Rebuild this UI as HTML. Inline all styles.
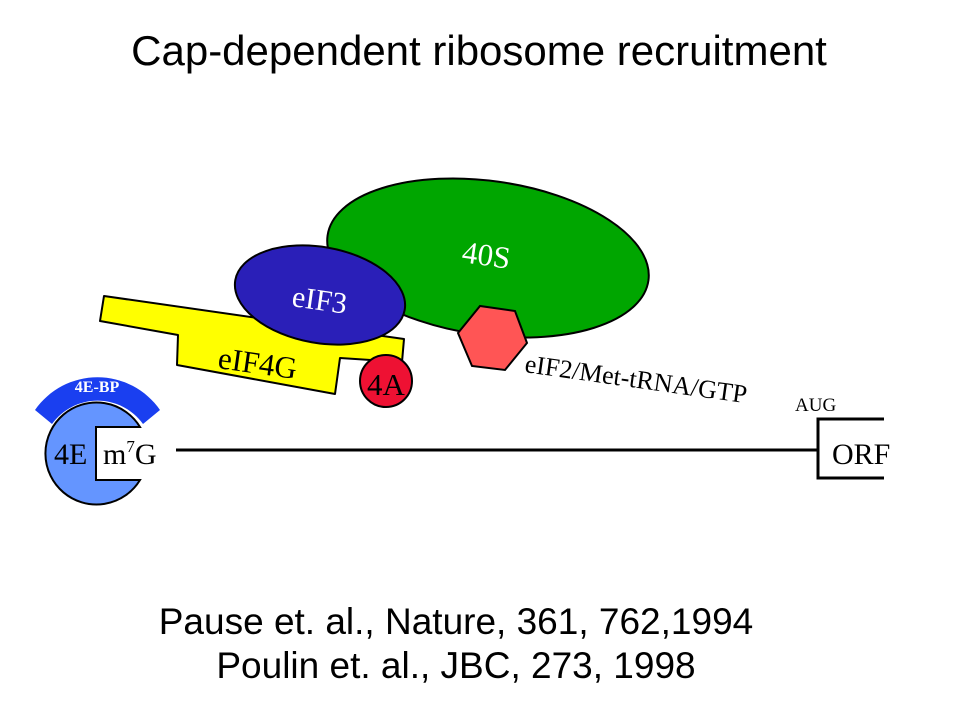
<!DOCTYPE html>
<html><head><style>body{margin:0;background:#fff}svg{display:block}</style></head><body>
<svg width="960" height="720" viewBox="0 0 960 720" xmlns="http://www.w3.org/2000/svg">
<rect width="960" height="720" fill="#fff"/>
<text x="479" y="65" font-family="Liberation Sans, sans-serif" font-size="42" text-anchor="middle">Cap-dependent ribosome recruitment</text>
<ellipse cx="488" cy="258" rx="162" ry="77" transform="rotate(8 488 258)" fill="#00a600" stroke="#000" stroke-width="2"/>
<polygon points="104,296 100,321 178,335 177,365 335,394 340,358 402,362 404,339" fill="#ffff00" stroke="#000" stroke-width="2" stroke-linejoin="round"/>
<ellipse cx="320" cy="295" rx="86" ry="48" transform="rotate(10 320 295)" fill="#2a1fb8" stroke="#000" stroke-width="2"/>
<circle cx="386" cy="381" r="26" fill="#ee1133" stroke="#000" stroke-width="2"/>
<polygon points="458,333 480,306 515,311 527,343 505,370 472,366" fill="#ff5555" stroke="#000" stroke-width="2"/>
<g font-family="Liberation Serif, serif">
<text x="461" y="262" font-size="31" fill="#fff" transform="rotate(8 461 262)">40S</text>
<text x="291" y="306" font-size="30" fill="#fff" transform="rotate(8 291 306)">eIF3</text>
<text x="217" y="368" font-size="31" transform="rotate(8 217 368)">eIF4G</text>
<text x="367" y="395" font-size="31">4A</text>
<text x="524" y="372" font-size="26" transform="rotate(8 524 372)">eIF2/Met-tRNA/GTP</text>
<text x="795" y="411" font-size="19">AUG</text>
<text x="832" y="464" font-size="30">ORF</text>
</g>
<line x1="176" y1="450" x2="818" y2="450" stroke="#000" stroke-width="3"/>
<polyline points="884,419 818,419 818,478 884,478" fill="none" stroke="#000" stroke-width="3"/>
<path d="M140,427 A51,51 0 1 0 140,480 L96,480 L96,427 Z" fill="#6495ff" stroke="#000" stroke-width="2"/>
<path d="M35,410 A76,76 0 0 1 160,410 L143,424 A56,56 0 0 0 52,424 Z" fill="#1a3ff0"/>
<text x="97" y="392" font-family="Liberation Serif, serif" font-size="16" font-weight="bold" fill="#fff" text-anchor="middle">4E-BP</text>
<text x="54" y="464" font-family="Liberation Serif, serif" font-size="30">4E</text>
<text x="103" y="464" font-family="Liberation Serif, serif" font-size="30">m<tspan font-size="17" dy="-12">7</tspan><tspan dy="12">G</tspan></text>
<g font-family="Liberation Sans, sans-serif" font-size="37" text-anchor="middle">
<text x="456" y="634">Pause et. al., Nature, 361, 762,1994</text>
<text x="456" y="678">Poulin et. al., JBC, 273, 1998</text>
</g>
</svg>
</body></html>
